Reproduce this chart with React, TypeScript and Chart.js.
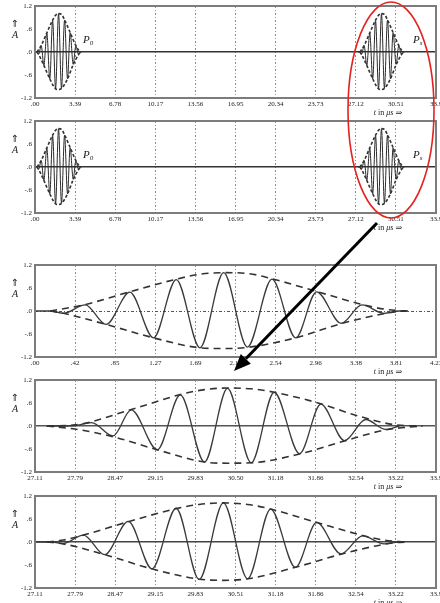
import React, { useEffect, useRef } from "react";
import { Chart, registerables } from "chart.js";

Chart.register(...registerables);

const SERIF = "'Liberation Serif', 'DejaVu Serif', 'Times New Roman', serif";

// ---------- axis ticks ----------
const WIDE_TICKS = [0, 3.39, 6.78, 10.17, 13.56, 16.95, 20.34, 23.73, 27.12, 30.51, 33.9];
const WIDE_LABELS = [".00", "3.39", "6.78", "10.17", "13.56", "16.95", "20.34", "23.73", "27.12", "30.51", "33.9"];
const P0_TICKS = [0, 0.423, 0.846, 1.269, 1.692, 2.115, 2.538, 2.961, 3.384, 3.807, 4.23];
const P0_LABELS = [".00", ".42", ".85", "1.27", "1.69", "2.12", "2.54", "2.96", "3.38", "3.81", "4.23"];
const PS_TICKS = [27.11, 27.789, 28.468, 29.147, 29.826, 30.505, 31.184, 31.863, 32.542, 33.221, 33.9];
const PS_LABELS_A = ["27.11", "27.79", "28.47", "29.15", "29.83", "30.50", "31.18", "31.86", "32.54", "33.22", "33.9"];
const PS_LABELS_B = ["27.11", "27.79", "28.47", "29.15", "29.83", "30.51", "31.18", "31.86", "32.54", "33.22", "33.9"];
const Y_TICKS = [-1.2, -0.6, 0, 0.6, 1.2];
const Y_LABELS = ["-1.2", "-.6", ".0", ".6", "1.2"];

// ---------- transmitted pulse P0 (μs, amplitude) ----------
const P0_T = [0, 0.16, 0.3, 0.53, 0.75, 1.0, 1.25, 1.49, 1.74, 1.99, 2.24, 2.5, 2.75, 2.97, 3.23, 3.45, 3.68, 3.84, 3.9];
const P0_A = [0, 0, -0.06, 0.16, -0.35, 0.49, -0.7, 0.82, -0.96, 1.0, -0.94, 0.83, -0.7, 0.5, -0.32, 0.16, -0.06, 0, 0];
const P0_UP_T = [0.16, 0.3, 0.53, 1.0, 1.49, 1.74, 1.99, 2.24, 2.5, 2.97, 3.45, 3.68, 3.84, 3.92];
const P0_UP_A = [0, 0.06, 0.17, 0.5, 0.83, 0.96, 1.0, 0.98, 0.84, 0.51, 0.17, 0.05, 0.01, 0];
const P0_LO_T = [0.16, 0.3, 0.75, 1.25, 1.74, 1.99, 2.24, 2.75, 3.23, 3.68, 3.84, 3.95];
const P0_LO_A = [0, -0.06, -0.35, -0.7, -0.96, -0.98, -0.95, -0.7, -0.33, -0.07, -0.01, 0];

// shift of the received packet Ps in the overview panels (μs)
const PS_SHIFT = 27.3;

// ---------- received pulse Ps, version A ----------
const PA_T = [27.31, 27.6, 27.79, 28.07, 28.43, 28.74, 29.18, 29.57, 29.98, 30.37, 30.77, 31.16, 31.59, 31.95, 32.35, 32.71, 33.05, 33.28];
const PA_A = [0, 0, 0.01, 0.09, -0.26, 0.42, -0.62, 0.81, -0.94, 0.98, -0.96, 0.88, -0.72, 0.57, -0.38, 0.17, -0.09, 0];
const PA_UP_T = [27.31, 27.79, 28.74, 29.57, 29.98, 30.37, 30.77, 31.16, 31.95, 32.54, 33.22, 33.67];
const PA_UP_A = [0, 0.03, 0.43, 0.82, 0.95, 0.99, 0.97, 0.88, 0.58, 0.28, 0.03, 0];
const PA_LO_T = [27.31, 27.79, 28.43, 29.18, 29.98, 30.37, 30.77, 31.59, 32.35, 33.05, 33.67];
const PA_LO_A = [0, -0.08, -0.28, -0.62, -0.94, -0.97, -0.96, -0.73, -0.39, -0.1, 0];

// ---------- received pulse Ps, version B ----------
const PB_T = [27.11, 27.4, 27.59, 27.93, 28.29, 28.69, 29.09, 29.5, 29.89, 30.3, 30.71, 31.1, 31.52, 31.88, 32.29, 32.66, 33.02, 33.28, 33.35];
const PB_A = [0, 0, -0.04, 0.18, -0.33, 0.54, -0.7, 0.88, -0.98, 1.02, -0.96, 0.86, -0.66, 0.51, -0.31, 0.16, -0.05, 0, 0];
const PB_UP_T = [27.31, 27.59, 27.93, 28.69, 29.5, 29.89, 30.3, 30.71, 31.1, 31.88, 32.66, 33.02, 33.28, 33.4];
const PB_UP_A = [0, 0.05, 0.18, 0.53, 0.87, 0.98, 1.02, 0.98, 0.86, 0.51, 0.17, 0.05, 0.01, 0];
const PB_LO_T = [27.31, 27.59, 28.29, 29.09, 29.89, 30.3, 30.71, 31.52, 32.29, 33.02, 33.28, 33.45];
const PB_LO_A = [0, -0.05, -0.33, -0.7, -0.97, -1.0, -0.96, -0.66, -0.32, -0.06, -0.01, 0];

type Series = { t: number[]; a: number[]; kind: "wave" | "env"; shift?: number };
type Tag = { t: number; a: number; sub: string };
type PanelCfg = {
  top: number;
  xMin: number;
  xMax: number;
  ticks: number[];
  labels: string[];
  series: Series[];
  dense: boolean;
  zeroDash: number[];
  zeroColor: string;
  zeroWidth: number;
  tags: Tag[];
};

const overviewSeries: Series[] = [
  { t: P0_UP_T, a: P0_UP_A, kind: "env" },
  { t: P0_LO_T, a: P0_LO_A, kind: "env" },
  { t: P0_T, a: P0_A, kind: "wave" },
  { t: P0_UP_T, a: P0_UP_A, kind: "env", shift: PS_SHIFT },
  { t: P0_LO_T, a: P0_LO_A, kind: "env", shift: PS_SHIFT },
  { t: P0_T, a: P0_A, kind: "wave", shift: PS_SHIFT },
];
const overviewTags: Tag[] = [
  { t: 4.05, a: 0.3, sub: "0" },
  { t: 31.95, a: 0.3, sub: "s" },
];

const PANELS: PanelCfg[] = [
  { top: 6, xMin: 0, xMax: 33.9, ticks: WIDE_TICKS, labels: WIDE_LABELS, series: overviewSeries, dense: true, zeroDash: [], zeroColor: "#333", zeroWidth: 1.5, tags: overviewTags },
  { top: 121, xMin: 0, xMax: 33.9, ticks: WIDE_TICKS, labels: WIDE_LABELS, series: overviewSeries, dense: true, zeroDash: [], zeroColor: "#333", zeroWidth: 1.5, tags: overviewTags },
  {
    top: 265, xMin: 0, xMax: 4.23, ticks: P0_TICKS, labels: P0_LABELS,
    series: [
      { t: P0_UP_T, a: P0_UP_A, kind: "env" },
      { t: P0_LO_T, a: P0_LO_A, kind: "env" },
      { t: P0_T, a: P0_A, kind: "wave" },
    ],
    dense: false, zeroDash: [3, 2, 1, 2], zeroColor: "#555", zeroWidth: 1, tags: [],
  },
  {
    top: 380, xMin: 27.11, xMax: 33.9, ticks: PS_TICKS, labels: PS_LABELS_A,
    series: [
      { t: PA_UP_T, a: PA_UP_A, kind: "env" },
      { t: PA_LO_T, a: PA_LO_A, kind: "env" },
      { t: PA_T, a: PA_A, kind: "wave" },
    ],
    dense: false, zeroDash: [], zeroColor: "#555", zeroWidth: 1.5, tags: [],
  },
  {
    top: 496, xMin: 27.11, xMax: 33.9, ticks: PS_TICKS, labels: PS_LABELS_B,
    series: [
      { t: PB_UP_T, a: PB_UP_A, kind: "env" },
      { t: PB_LO_T, a: PB_LO_A, kind: "env" },
      { t: PB_T, a: PB_A, kind: "wave" },
    ],
    dense: false, zeroDash: [], zeroColor: "#444", zeroWidth: 1.5, tags: [],
  },
];

const PAD_TOP = 6;
const X_AXIS_H = 24;
const PLOT_H = 92;
const CANVAS_H = PAD_TOP + PLOT_H + X_AXIS_H;

function drawRich(ctx: CanvasRenderingContext2D, parts: [string, boolean][], cx: number, cy: number, size: number) {
  let total = 0;
  const widths: number[] = [];
  for (const [s, it] of parts) {
    ctx.font = `${it ? "italic " : ""}${size}px ${SERIF}`;
    const w = ctx.measureText(s).width;
    widths.push(w);
    total += w;
  }
  let x = cx - total / 2;
  ctx.textAlign = "left";
  ctx.textBaseline = "middle";
  parts.forEach(([s, it], i) => {
    ctx.font = `${it ? "italic " : ""}${size}px ${SERIF}`;
    ctx.fillText(s, x, cy);
    x += widths[i];
  });
}

function Panel({ cfg }: { cfg: PanelCfg }) {
  const ref = useRef<HTMLCanvasElement | null>(null);
  useEffect(() => {
    if (!ref.current) return;
    const datasets = cfg.series.map((s) => {
      const isWave = s.kind === "wave";
      return {
        data: s.t.map((t, i) => ({ x: t + (s.shift || 0), y: s.a[i] })),
        borderColor: isWave ? (cfg.dense ? "#2a2a2a" : "#3a3a3a") : "#333",
        borderWidth: isWave ? (cfg.dense ? 1 : 1.3) : 1.6,
        borderDash: isWave ? [] : cfg.dense ? [3, 2] : [7, 5],
        pointRadius: 0,
        fill: false,
        cubicInterpolationMode: "monotone" as const,
      };
    });
    const decor = {
      id: "decor",
      afterDraw(chart: any) {
        const { ctx, chartArea: ca } = chart;
        const xs = chart.scales.x;
        const ys = chart.scales.y;
        ctx.save();
        ctx.strokeStyle = "#7c7c7c";
        ctx.lineWidth = 2;
        ctx.setLineDash([]);
        ctx.strokeRect(ca.left, ca.top, ca.right - ca.left, ca.bottom - ca.top);
        ctx.fillStyle = "#222";
        ctx.textAlign = "center";
        ctx.textBaseline = "middle";
        ctx.font = `10px 'DejaVu Sans', sans-serif`;
        ctx.fillText("⇑", ca.left - 20, ca.top + 18);
        ctx.font = `italic 10px ${SERIF}`;
        ctx.fillText("A", ca.left - 20, ca.top + 29);
        drawRich(ctx, [["t", true], [" in ", false], ["μs", true], [" ⇒", false]], 388, ca.bottom + 15, 8);
        for (const tag of cfg.tags) {
          const px = xs.getPixelForValue(tag.t);
          const py = ys.getPixelForValue(tag.a);
          ctx.textAlign = "left";
          ctx.textBaseline = "middle";
          ctx.font = `italic 11px ${SERIF}`;
          ctx.fillText("P", px, py);
          const w = ctx.measureText("P").width;
          ctx.font = `italic 7px ${SERIF}`;
          ctx.fillText(tag.sub, px + w, py + 3);
        }
        ctx.restore();
      },
    };
    const n = cfg.ticks.length;
    const chart = new Chart(ref.current, {
      type: "line",
      data: { datasets },
      options: {
        responsive: false,
        maintainAspectRatio: false,
        animation: false,
        layout: { padding: { top: PAD_TOP, left: 0, right: 4, bottom: 0 } },
        plugins: { legend: { display: false }, tooltip: { enabled: false } },
        scales: {
          x: {
            type: "linear",
            min: cfg.xMin,
            max: cfg.xMax,
            afterBuildTicks: (s: any) => {
              s.ticks = cfg.ticks.map((v) => ({ value: v }));
            },
            afterFit: (s: any) => {
              s.height = X_AXIS_H;
              s.paddingLeft = 0;
              s.paddingRight = 0;
            },
            ticks: {
              autoSkip: false,
              maxRotation: 0,
              padding: 2,
              color: "#222",
              font: { family: SERIF, size: 7 },
              callback: (_v: any, i: number) => cfg.labels[i],
            },
            grid: {
              drawTicks: false,
              lineWidth: 1,
              color: (c: any) => (c.index === 0 || c.index === n - 1 ? "rgba(0,0,0,0)" : "#8c8c8c"),
            },
            border: { display: false, dash: [2, 2, 1, 2] },
          },
          y: {
            type: "linear",
            min: -1.2,
            max: 1.2,
            afterBuildTicks: (s: any) => {
              s.ticks = Y_TICKS.map((v) => ({ value: v }));
            },
            afterFit: (s: any) => {
              s.width = 35;
              s.paddingTop = 0;
              s.paddingBottom = 0;
            },
            ticks: {
              padding: 3,
              color: "#222",
              font: { family: SERIF, size: 7 },
              callback: (_v: any, i: number) => Y_LABELS[i],
            },
            grid: {
              drawTicks: false,
              lineWidth: cfg.zeroWidth,
              color: (c: any) => (c.tick && Math.abs(c.tick.value) < 1e-9 ? cfg.zeroColor : "rgba(0,0,0,0)"),
            },
            border: { display: false, dash: cfg.zeroDash },
          },
        },
      } as any,
      plugins: [decor],
    });
    return () => chart.destroy();
  }, [cfg]);
  return (
    <canvas
      ref={ref}
      width={440}
      height={CANVAS_H}
      style={{ position: "absolute", left: 0, top: cfg.top - PAD_TOP, width: 440, height: CANVAS_H, display: "block" }}
    />
  );
}

function Overlay() {
  const ref = useRef<HTMLCanvasElement | null>(null);
  useEffect(() => {
    const c = ref.current;
    if (!c) return;
    const ctx = c.getContext("2d");
    if (!ctx) return;
    ctx.clearRect(0, 0, 440, 603);
    // red highlight ellipse
    ctx.strokeStyle = "#e3231f";
    ctx.lineWidth = 1.6;
    ctx.beginPath();
    ctx.ellipse(391, 110, 43, 108, 0, 0, Math.PI * 2);
    ctx.stroke();
    // arrow
    const x1 = 377, y1 = 223, x2 = 234, y2 = 371;
    const ang = Math.atan2(y2 - y1, x2 - x1);
    const hl = 17, hw = 7;
    const bx = x2 - hl * Math.cos(ang);
    const by = y2 - hl * Math.sin(ang);
    ctx.strokeStyle = "#000";
    ctx.lineWidth = 3;
    ctx.beginPath();
    ctx.moveTo(x1, y1);
    ctx.lineTo(bx, by);
    ctx.stroke();
    ctx.fillStyle = "#000";
    ctx.beginPath();
    ctx.moveTo(x2, y2);
    ctx.lineTo(bx + hw * Math.sin(ang), by - hw * Math.cos(ang));
    ctx.lineTo(bx - hw * Math.sin(ang), by + hw * Math.cos(ang));
    ctx.closePath();
    ctx.fill();
  }, []);
  return (
    <canvas
      ref={ref}
      width={440}
      height={603}
      style={{ position: "absolute", left: 0, top: 0, width: 440, height: 603, pointerEvents: "none", zIndex: 5 }}
    />
  );
}

export default function App() {
  return (
    <div style={{ position: "absolute", left: 0, top: 0, width: 440, height: 603, overflow: "hidden", background: "#fff" }}>
      {PANELS.map((p, i) => (
        <Panel key={i} cfg={p} />
      ))}
      <Overlay />
    </div>
  );
}
